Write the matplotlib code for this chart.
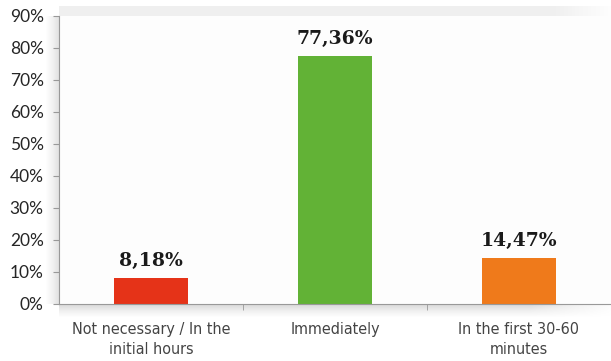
import numpy as np
import matplotlib.pyplot as plt

categories = ["Not necessary / In the\ninitial hours", "Immediately", "In the first 30-60\nminutes"]
values = [8.18, 77.36, 14.47]
value_labels = ["8,18%", "77,36%", "14,47%"]
colors = ["#E53318", "#62B236", "#EF7A1B"]

fig = plt.figure(figsize=(6.11, 3.61), dpi=100)
fig.patch.set_facecolor("white")

# soft grey shading around the plot frame
bg = fig.add_axes([0, 0, 1, 1], zorder=0)
bg.set_xlim(0, 611)
bg.set_ylim(361, 0)
bg.axis("off")
fade = np.linspace(0, 1, 60)
top = np.tile(np.concatenate([np.ones(540), 1 - fade[:60] * 0.9])[None, :], (10, 1))
bg.imshow(top, extent=(59, 611, 16, 6), cmap="Greys", vmin=0, vmax=8, aspect="auto")
left = np.tile(np.linspace(0, 1, 14)[None, :], (288, 1))
bg.imshow(left, extent=(45, 59, 304, 16), cmap="Greys", vmin=0, vmax=5, aspect="auto")
bottom = np.tile(np.linspace(1, 0, 14)[:, None], (1, 540))
bottom = bottom * np.concatenate([np.ones(460), np.linspace(1, 0.1, 80)])[None, :]
bg.imshow(bottom, extent=(59, 611, 318, 304), cmap="Greys", vmin=0, vmax=4, aspect="auto")

ax = fig.add_axes([59 / 611, 57 / 361, 552 / 611, 288 / 361], zorder=1)
ax.set_facecolor("#FDFDFD")
x = np.arange(len(categories))
ax.bar(x, values, 0.4, color=colors)
for xi, v, lab in zip(x, values, value_labels):
    ax.text(xi, v + 2.5, lab, ha="center", va="bottom", fontsize=13.5,
            fontweight="bold", family="DejaVu Serif", color="#1a1a1a")

ax.set_xlim(-0.5, 2.5)
ax.set_ylim(0, 90)
ax.set_yticks(np.arange(0, 91, 10))
ax.set_yticklabels([f"{t}%" for t in range(0, 91, 10)], fontsize=12.5,
                   family="Lato", color="#262626")
ax.set_xticks(x)
ax.set_xticklabels(categories, fontsize=11.5, family="DejaVu Sans", stretch="condensed",
                   color="#444444", linespacing=1.45)
ax.set_xticks([0.5, 1.5], minor=True)
ax.tick_params(axis="x", which="major", length=0, pad=13)
ax.tick_params(axis="x", which="minor", length=4, color="#999999")
ax.tick_params(axis="y", length=4, color="#999999", pad=7)
for s in ["top", "right"]:
    ax.spines[s].set_visible(False)
ax.spines["left"].set_color("#999999")
ax.spines["bottom"].set_color("#999999")

fig.savefig("out.png", dpi=100)
